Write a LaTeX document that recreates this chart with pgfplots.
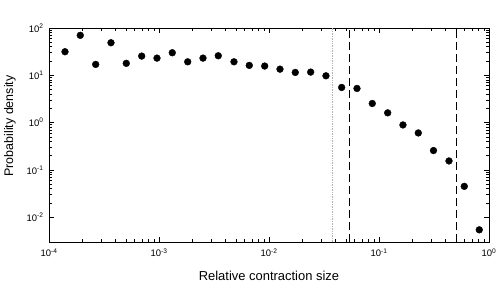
\documentclass[border=0pt]{standalone}
\usepackage{pgfplots}
\pgfplotsset{compat=1.18}
\usepackage{fontspec}
\setmainfont{Liberation Sans}
\begin{document}
\begin{tikzpicture}
\begin{axis}[
  scale only axis, width=440bp, height=214bp,
  xmode=log, ymode=log,
  xmin=1e-4, xmax=1, ymin=0.003, ymax=100,
  tick align=inside,
  xtick={1e-4,1e-3,1e-2,1e-1,1},
  xticklabels={10\textsuperscript{-4},10\textsuperscript{-3},10\textsuperscript{-2},10\textsuperscript{-1},10\textsuperscript{0}},
  ytick={1e-2,1e-1,1,10,100},
  yticklabels={10\textsuperscript{-2},10\textsuperscript{-1},10\textsuperscript{0},10\textsuperscript{1},10\textsuperscript{2}},
  major tick length=5bp, minor tick length=3bp,
  axis line style={line width=0.9bp},
  every tick/.style={black, line width=0.7bp},
  ticklabel style={font=\fontsize{9.5}{11}\selectfont},
  xticklabel style={yshift=-3bp},
  yticklabel style={xshift=-2bp},
  xlabel={Relative contraction size},
  ylabel={Probability density},
  xlabel style={font=\fontsize{13}{15}\selectfont, at={(axis description cs:0.5,-0.178)}, anchor=base},
  ylabel style={font=\fontsize{12.5}{15}\selectfont, at={(axis description cs:-0.0886,0.542)}, anchor=center},
]
\addplot[gray!60, densely dotted, line width=0.7bp] coordinates {(0.0374,0.003) (0.0374,100)};
\addplot[black, dash pattern=on 8bp off 4bp, line width=0.7bp] coordinates {(0.0537,0.003) (0.0537,100)};
\addplot[black, dash pattern=on 8bp off 4bp, line width=0.7bp] coordinates {(0.509,0.003) (0.509,100)};
\addplot[only marks, mark=*, mark size=3.4bp, black] coordinates {
(1.398e-4,31.5) (1.925e-4,70) (2.658e-4,17.0) (3.661e-4,48.8) (5.042e-4,17.9)
(6.963e-4,25.5) (9.59e-4,23.1) (1.321e-3,30) (1.824e-3,19.3) (2.512e-3,23.1)
(3.459e-3,25.9) (4.806e-3,19.3) (6.62e-3,16.2) (9.14e-3,15.7) (1.259e-2,13.5)
(1.734e-2,11.5) (2.393e-2,11.7) (3.297e-2,9.76) (4.58e-2,5.54) (6.31e-2,5.28)
(8.69e-2,2.54) (0.12,1.61) (0.1652,0.894) (0.2277,0.605) (0.313,0.257)
(0.4329,0.155) (0.5964,0.045) (0.816,0.00543)
};
\end{axis}
\pgfresetboundingbox
\path[use as bounding box] (-49bp,-42bp) rectangle (455bp,242bp);
\end{tikzpicture}
\end{document}
